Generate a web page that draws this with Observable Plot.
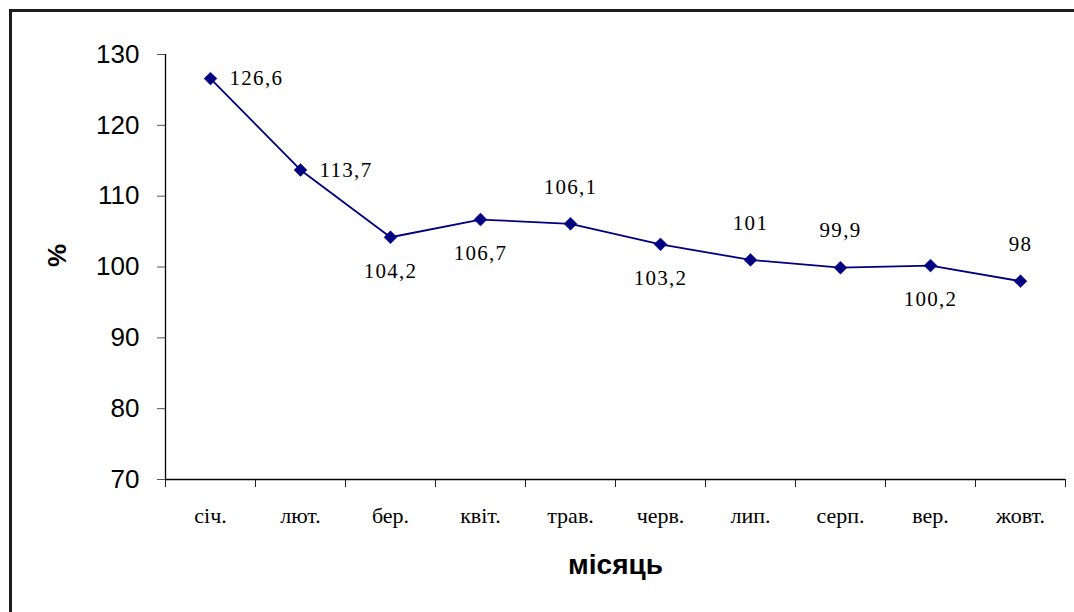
<!DOCTYPE html>
<html>
<head>
<meta charset="utf-8">
<script src="https://cdn.jsdelivr.net/npm/d3@7"></script>
<script src="https://cdn.jsdelivr.net/npm/@observablehq/plot@0.6"></script>
<style>
  html, body { margin: 0; padding: 0; background: #fff; overflow: hidden; }
  #wrap { position: relative; width: 1074px; height: 612px; overflow: hidden; }
  #frame { position: absolute; left: 9px; top: 9px; width: 2000px; height: 2000px;
           border-left: 3px solid #1c1c1c; border-top: 3px solid #1c1c1c; box-sizing: border-box; }
  #chart { position: absolute; left: 0; top: 0; }
  .vlabels text { letter-spacing: 1.3px; }
</style>
</head>
<body>
<div id="wrap"><div id="frame"></div><div id="chart"></div></div>
<script>
const months = ["січ.", "лют.", "бер.", "квіт.", "трав.", "черв.", "лип.", "серп.", "вер.", "жовт."];
const values = [126.6, 113.7, 104.2, 106.7, 106.1, 103.2, 101, 99.9, 100.2, 98];
const valueLabels = ["126,6", "113,7", "104,2", "106,7", "106,1", "103,2", "101", "99,9", "100,2", "98"];
const placement = ["right", "right", "below", "below", "above", "below", "above", "above", "below", "above"];
const yTicks = [70, 80, 90, 100, 110, 120, 130];
const yLabel = "%";
const xLabel = "місяць";

const data = months.map((m, i) => ({month: m, i, x: i + 0.5, value: values[i], label: valueLabels[i], pos: placement[i]}));
const navy = "#000080";
const serif = "'Liberation Serif', 'Times New Roman', serif";
const sans = "'Liberation Sans', Arial, sans-serif";

const chart = Plot.plot({
  width: 1074,
  height: 612,
  marginLeft: 165,
  marginRight: 9,
  marginTop: 54,
  marginBottom: 133,
  style: {background: "transparent", color: "#000", fontFamily: sans},
  x: {type: "linear", domain: [0, months.length]},
  y: {domain: [70, 130]},
  marks: [
    Plot.axisY({ticks: yTicks, tickSize: 8, tickPadding: 18, fontSize: 26, fontFamily: sans, label: null, stroke: "#555"}),
    Plot.axisX({ticks: d3.range(months.length + 1), tickSize: 8, tickFormat: () => "", label: null, stroke: "#222"}),
    Plot.axisX({ticks: d3.range(months.length).map(i => i + 0.5), tickSize: 0, tickPadding: 28,
                tickFormat: v => months[Math.floor(v)], fontSize: 22, fontFamily: serif, label: null}),
    Plot.ruleX([0], {stroke: "#000", strokeWidth: 1.3}),
    Plot.ruleY([70], {stroke: "#000", strokeWidth: 1.3}),
    Plot.line(data, {x: "x", y: "value", stroke: navy, strokeWidth: 1.8}),
    Plot.dot(data, {x: "x", y: "value", symbol: "diamond2", r: 5.8, fill: navy, stroke: navy, strokeWidth: 0.5}),
    Plot.text(data.filter(d => d.pos === "right"), {x: "x", y: "value", text: "label", textAnchor: "start", dx: 19,
               fontSize: 21, fontFamily: serif, fill: "#000", className: "vlabels"}),
    Plot.text(data.filter(d => d.pos === "above"), {x: "x", y: "value", text: "label", dy: -37,
               fontSize: 21, fontFamily: serif, fill: "#000", className: "vlabels"}),
    Plot.text(data.filter(d => d.pos === "below"), {x: "x", y: "value", text: "label", dy: 34,
               fontSize: 21, fontFamily: serif, fill: "#000", className: "vlabels"}),
    Plot.text([yLabel], {frameAnchor: "left", dx: -108, rotate: -90, fontSize: 26, fontWeight: "bold", fontFamily: sans, fill: "#000"}),
    Plot.text([xLabel], {frameAnchor: "bottom", dy: 94, fontSize: 28, fontWeight: "bold", fontFamily: sans, fill: "#000"})
  ]
});
document.getElementById("chart").appendChild(chart);
</script>
</body>
</html>
